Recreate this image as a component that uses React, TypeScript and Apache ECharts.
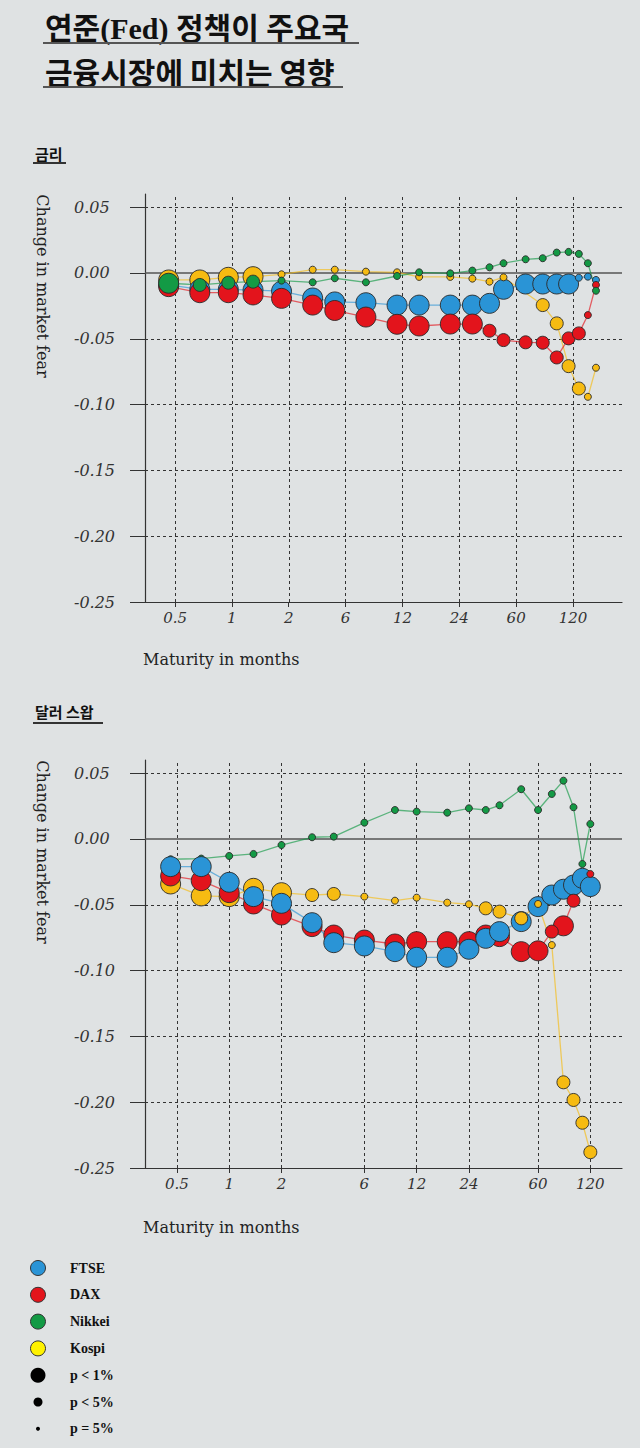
import React, { useEffect, useRef } from 'react';
import * as echarts from 'echarts';

// ---------- data ----------
const MATURITIES = [0.46, 0.69, 1, 1.38, 2, 3, 4, 6, 9, 12, 18, 24, 30, 36, 48, 60, 72, 84, 96, 108, 120];

const TICK_LABELS = ['0.5', '1', '2', '6', '12', '24', '60', '120'];
// the rate panel draws its labels evenly spaced, at these points of its log scale
const RATE_TICK_POS = [0.5, 1.047, 2.196, 4.604, 9.654, 20.24, 42.43, 88.97];
const SWAP_TICK_POS = [0.5, 1, 2, 6, 12, 24, 60, 120];
const Y_TICKS = [-0.25, -0.2, -0.15, -0.1, -0.05, 0, 0.05];
const Y_GRIDLINES = [-0.2, -0.15, -0.1, -0.05, 0.05];

// significance: 1 = p < 1%, 2 = p < 5%, 3 = p = 5%
// 금리
const RATE_FTSE = [-0.009, -0.0125, -0.0125, -0.013, -0.0138, -0.019, -0.022, -0.0226, -0.0244, -0.0244, -0.0244, -0.0244, -0.0231, -0.0124, -0.0084, -0.0084, -0.0084, -0.0084, -0.0036, -0.0028, -0.0053];
const RATE_FTSE_SIG = [1, 1, 1, 1, 1, 1, 1, 1, 1, 1, 1, 1, 1, 1, 1, 1, 1, 1, 3, 3, 3];
const RATE_DAX = [-0.0104, -0.015, -0.015, -0.0167, -0.0193, -0.0244, -0.0285, -0.0335, -0.039, -0.0403, -0.0388, -0.0388, -0.0439, -0.051, -0.0527, -0.053, -0.0642, -0.0497, -0.0459, -0.032, -0.0091];
const RATE_DAX_SIG = [1, 1, 1, 1, 1, 1, 1, 1, 1, 1, 1, 1, 2, 2, 2, 2, 2, 2, 2, 3, 3];
const RATE_NIKKEI = [-0.0078, -0.0091, -0.0074, -0.0066, -0.0058, -0.0071, -0.004, -0.0071, -0.0023, 0.0005, -0.0003, 0.0018, 0.0043, 0.0074, 0.0104, 0.0112, 0.0155, 0.016, 0.0145, 0.0074, -0.0135];
const RATE_NIKKEI_SIG = [1, 2, 2, 2, 3, 3, 3, 3, 3, 3, 3, 3, 3, 3, 3, 3, 3, 3, 3, 3, 3];
const RATE_KOSPI = [-0.0053, -0.0053, -0.0033, -0.0028, -0.001, 0.0025, 0.0025, 0.001, 0.0005, -0.003, -0.003, -0.0043, -0.0066, -0.0033, null, -0.0244, -0.0383, -0.0708, -0.0878, -0.0941, -0.072];
const RATE_KOSPI_SIG = [1, 1, 1, 1, 3, 3, 3, 3, 3, 3, 3, 3, 3, 3, 3, 2, 2, 2, 2, 3, 3];

// 달러 스왑
const SWAP_FTSE = [-0.021, -0.021, -0.0329, -0.0438, -0.0489, -0.0636, -0.0788, -0.0813, -0.0856, -0.0899, -0.0899, -0.0838, -0.0755, -0.0704, -0.0628, -0.0514, -0.0426, -0.0382, -0.035, -0.0299, -0.0362];
const SWAP_FTSE_SIG = [1, 1, 1, 1, 1, 1, 1, 1, 1, 1, 1, 1, 1, 1, 1, 1, 1, 1, 1, 1, 1];
const SWAP_DAX = [-0.0281, -0.0317, -0.0408, -0.0494, -0.0578, -0.0666, -0.073, -0.0768, -0.0798, -0.078, -0.078, -0.078, -0.073, -0.0742, -0.0856, -0.085, -0.0704, -0.066, -0.0469, null, -0.0266];
const SWAP_DAX_SIG = [1, 1, 1, 1, 1, 1, 1, 1, 1, 1, 1, 1, 1, 1, 1, 1, 2, 1, 2, 3, 3];
const SWAP_NIKKEI = [-0.0154, -0.0149, -0.0129, -0.0114, -0.0046, 0.0013, 0.0018, 0.0124, 0.022, 0.0208, 0.02, 0.0233, 0.022, 0.0256, 0.0378, 0.022, 0.0342, 0.0443, 0.0241, -0.019, 0.0114];
const SWAP_NIKKEI_SIG = [3, 3, 3, 3, 3, 3, 3, 3, 3, 3, 3, 3, 3, 3, 3, 3, 3, 3, 3, 3, 3];
const SWAP_KOSPI = [-0.0342, -0.0433, -0.0438, -0.0375, -0.0408, -0.0426, -0.0418, -0.0438, -0.0469, -0.0446, -0.0484, -0.0496, -0.0527, -0.0552, -0.0603, -0.0494, -0.0806, -0.1849, -0.1983, -0.2156, -0.238];
const SWAP_KOSPI_SIG = [1, 1, 1, 1, 1, 2, 2, 3, 3, 3, 3, 3, 2, 2, 2, 3, 3, 2, 2, 2, 2];

const LEGEND_LABELS = ['FTSE', 'DAX', 'Nikkei', 'Kospi', 'p < 1%', 'p < 5%', 'p = 5%'];

// ---------- styles ----------
const COLORS: Record<string, string> = {
  FTSE: '#2a94d6',
  DAX: '#e3141c',
  Nikkei: '#139a45',
  Kospi: '#f6bb12',
};
const SIZE_BY_SIG: Record<number, number> = { 1: 20, 2: 13, 3: 7 };
const BG = '#dfe2e3';
const SERIF = "'DejaVu Serif', 'Liberation Serif', serif";
const KR = "'Noto Sans CJK KR', 'Noto Sans CJK SC', sans-serif";
const TITLE_FONT = "'Liberation Serif', 'Noto Sans CJK KR', 'Noto Sans CJK SC', sans-serif";

type Def = { name: string; values: (number | null)[]; sig: number[] };

function labelFor(v: number, pos: number[]) {
  let best = 0;
  for (let i = 0; i < pos.length; i++) {
    if (Math.abs(Math.log(v) - Math.log(pos[i])) < Math.abs(Math.log(v) - Math.log(pos[best]))) best = i;
  }
  return TICK_LABELS[best];
}

function buildSeries(gi: number, defs: Def[], bottom: string[], order: string[], tickPos: number[]) {
  const series: any[] = [];
  const byName: Record<string, Def> = {};
  defs.forEach((d) => (byName[d.name] = d));
  defs.forEach((d, k) => {
    const s: any = {
      type: 'line',
      name: d.name + ' line',
      xAxisIndex: gi,
      yAxisIndex: gi,
      silent: true,
      symbol: 'none',
      z: 2,
      lineStyle: { color: COLORS[d.name], width: 1.3, opacity: 0.65 },
      data: MATURITIES.map((m, i) => (d.values[i] == null ? null : [m, d.values[i]])).filter((p) => p != null),
    };
    if (k === 0) {
      s.markLine = {
        silent: true,
        z: 1,
        symbol: ['none', 'none'],
        animation: false,
        label: { show: false },
        lineStyle: { color: '#333', type: [3, 3], width: 1 },
        data: [
          ...tickPos.map((v) => ({ xAxis: v })),
          ...Y_GRIDLINES.map((v) => ({ yAxis: v })),
          { yAxis: 0, lineStyle: { type: 'solid', color: '#555', width: 1.5 } },
        ],
      };
    }
    series.push(s);
  });
  let z = 3;
  const pushScatter = (d: Def, level: number | null) => {
    const pts = MATURITIES.map((m, i) => ({ m, v: d.values[i], s: d.sig[i] }))
      .filter((p) => p.v != null && (level == null || p.s === level));
    if (!pts.length) return;
    series.push({
      type: 'scatter',
      name: d.name,
      xAxisIndex: gi,
      yAxisIndex: gi,
      silent: true,
      z: z++,
      symbol: 'circle',
      symbolSize: (val: any, params: any) => SIZE_BY_SIG[pts[params.dataIndex].s],
      itemStyle: { color: COLORS[d.name], borderColor: '#2a2a2a', borderWidth: 0.9, opacity: 1 },
      data: pts.map((p) => [p.m, p.v]),
    });
  };
  bottom.forEach((n) => pushScatter(byName[n], null));
  [1, 2, 3].forEach((level) => order.forEach((n) => pushScatter(byName[n], level)));
  return series;
}

function axes(gi: number, tickPos: number[], min: number, max: number) {
  const xAxis = {
    type: 'log',
    logBase: 10,
    gridIndex: gi,
    min,
    max,
    axisLine: { show: true, onZero: false, lineStyle: { color: '#333', width: 1.2 } },
    axisTick: { show: true, customValues: tickPos, length: 5, lineStyle: { color: '#333' } },
    axisLabel: {
      show: true,
      customValues: tickPos,
      formatter: (v: number) => labelFor(v, tickPos),
      margin: 8,
      fontFamily: SERIF,
      fontStyle: 'italic',
      fontSize: 15,
      color: '#333',
    },
    splitLine: { show: false },
    minorTick: { show: false },
    minorSplitLine: { show: false },
  };
  const yAxis = {
    type: 'value',
    gridIndex: gi,
    min: -0.25,
    max: 0.06,
    axisLine: { show: true, onZero: false, lineStyle: { color: '#333', width: 1.2 } },
    axisTick: { show: true, customValues: Y_TICKS, length: 15, lineStyle: { color: '#333' } },
    axisLabel: {
      show: true,
      customValues: Y_TICKS,
      formatter: (v: number) => v.toFixed(2),
      align: 'left',
      margin: 71,
      fontFamily: SERIF,
      fontStyle: 'italic',
      fontSize: 16,
      color: '#333',
    },
    splitLine: { show: false },
  };
  return { xAxis, yAxis };
}

function text(x: number, y: number, t: string, st: any, extra: any = {}) {
  return {
    type: 'text',
    x,
    y,
    silent: true,
    ...extra,
    style: {
      text: t,
      fill: '#111',
      align: 'left',
      textAlign: 'left',
      verticalAlign: 'middle',
      textVerticalAlign: 'middle',
      ...st,
    },
  };
}

function rect(x: number, y: number, w: number, h: number, fill: string) {
  return { type: 'rect', silent: true, shape: { x, y, width: w, height: h }, style: { fill } };
}

export default function App() {
  const ref = useRef<HTMLDivElement>(null);
  useEffect(() => {
    document.body.style.margin = '0';
    document.body.style.background = BG;
    if (!ref.current) return;
    const chart = echarts.init(ref.current, undefined, { renderer: 'svg' });

    const rateDefs: Def[] = [
      { name: 'Kospi', values: RATE_KOSPI, sig: RATE_KOSPI_SIG },
      { name: 'FTSE', values: RATE_FTSE, sig: RATE_FTSE_SIG },
      { name: 'DAX', values: RATE_DAX, sig: RATE_DAX_SIG },
      { name: 'Nikkei', values: RATE_NIKKEI, sig: RATE_NIKKEI_SIG },
    ];
    const swapDefs: Def[] = [
      { name: 'Nikkei', values: SWAP_NIKKEI, sig: SWAP_NIKKEI_SIG },
      { name: 'Kospi', values: SWAP_KOSPI, sig: SWAP_KOSPI_SIG },
      { name: 'DAX', values: SWAP_DAX, sig: SWAP_DAX_SIG },
      { name: 'FTSE', values: SWAP_FTSE, sig: SWAP_FTSE_SIG },
    ];

    const a1 = axes(0, RATE_TICK_POS, 0.338, 168.4);
    const a2 = axes(1, SWAP_TICK_POS, 0.3275, 182.6);

    const legendColors = [COLORS.FTSE, COLORS.DAX, COLORS.Nikkei, '#fff200', '#000', '#000', '#000'];
    const legendR = [7.5, 7.5, 7.5, 7.5, 7.5, 4.5, 2];
    const legendGraphics: any[] = [];
    LEGEND_LABELS.forEach((lab, i) => {
      const y = 1268 + i * 26.8;
      legendGraphics.push({
        type: 'circle',
        silent: true,
        shape: { cx: 38, cy: y, r: legendR[i] },
        style: { fill: legendColors[i], stroke: i < 4 ? '#333' : '#000', lineWidth: i < 4 ? 1 : 0 },
      });
      legendGraphics.push(
        text(70, y, lab, { fontFamily: "'Liberation Serif', serif", fontSize: 14, fontWeight: 'bold', fill: '#111' }),
      );
    });

    const option: any = {
      animation: false,
      backgroundColor: BG,
      grid: [
        { left: 145, top: 194, width: 477, height: 408, containLabel: false, outerBoundsMode: 'none' },
        { left: 145, top: 760, width: 477, height: 408, containLabel: false, outerBoundsMode: 'none' },
      ],
      xAxis: [a1.xAxis, a2.xAxis],
      yAxis: [a1.yAxis, a2.yAxis],
      series: [
        ...buildSeries(0, rateDefs, [], ['Kospi', 'FTSE', 'DAX', 'Nikkei'], RATE_TICK_POS),
        ...buildSeries(1, swapDefs, ['Nikkei'], ['Kospi', 'DAX', 'FTSE'], SWAP_TICK_POS),
      ],
      graphic: [
        text(45, 28, '연준(Fed) 정책이 주요국', { fontFamily: TITLE_FONT, fontSize: 30, fontWeight: 'bold', fill: '#111' }),
        rect(43, 42, 316, 2, '#555'),
        text(45, 71, '금융시장에 미치는 영향', { fontFamily: KR, fontSize: 30, fontWeight: 'bold', fill: '#111' }),
        rect(43, 86, 300, 2, '#555'),
        text(35, 153, '금리', { fontFamily: KR, fontSize: 15, fontWeight: 'bold', fill: '#111' }),
        rect(33, 162, 33, 2, '#333'),
        text(35, 711.5, '달러 스왑', { fontFamily: KR, fontSize: 15, fontWeight: 'bold', fill: '#111' }),
        rect(33, 722, 70, 2, '#333'),
        text(42, 286, 'Change in market fear', { fontFamily: SERIF, fontSize: 16, fill: '#222', align: 'center', textAlign: 'center' }, { rotation: -Math.PI / 2 }),
        text(42, 852, 'Change in market fear', { fontFamily: SERIF, fontSize: 16, fill: '#222', align: 'center', textAlign: 'center' }, { rotation: -Math.PI / 2 }),
        text(143, 659, 'Maturity in months', { fontFamily: SERIF, fontSize: 16, fill: '#222' }),
        text(143, 1227, 'Maturity in months', { fontFamily: SERIF, fontSize: 16, fill: '#222' }),
        ...legendGraphics,
      ],
    };
    chart.setOption(option);
    return () => chart.dispose();
  }, []);
  return <div ref={ref} style={{ width: 640, height: 1448, background: BG }} />;
}
